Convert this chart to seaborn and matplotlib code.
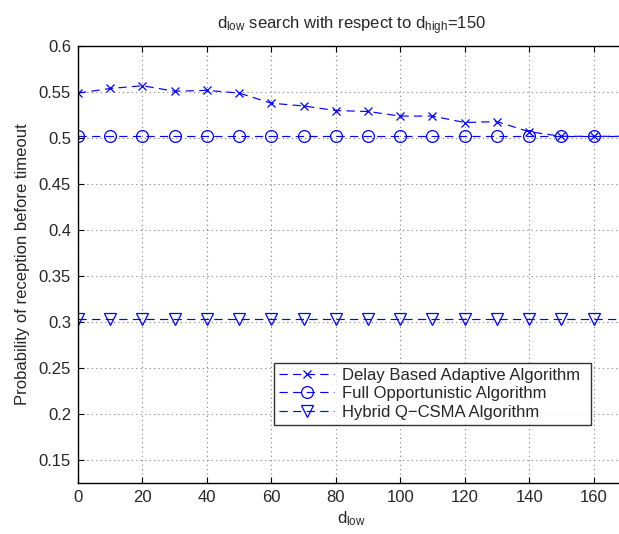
import matplotlib
matplotlib.use("Agg")
import matplotlib.pyplot as plt
import seaborn as sns
import pandas as pd

d_low = [0, 10, 20, 30, 40, 50, 60, 70, 80, 90, 100, 110, 120, 130, 140, 150, 160, 170]
delay_based = [0.549, 0.554, 0.557, 0.551, 0.552, 0.549, 0.538, 0.535, 0.530, 0.529,
               0.524, 0.524, 0.517, 0.518, 0.507, 0.502, 0.502, 0.502]
full_opp = [0.502] * 18
hybrid = [0.303] * 18

series_names = ["Delay Based Adaptive Algorithm", "Full Opportunistic Algorithm",
                "Hybrid Q\u2212CSMA Algorithm"]
series_values = [delay_based, full_opp, hybrid]
markers = ["x", "o", "v"]
msizes = [6, 8.5, 8.5]

sns.set_style("white")
plt.rcParams["font.family"] = ["Liberation Sans", "DejaVu Sans"]
plt.rcParams["mathtext.fontset"] = "custom"
plt.rcParams["mathtext.rm"] = "Liberation Sans"
plt.rcParams["mathtext.it"] = "Liberation Sans"

fig = plt.figure(figsize=(6.19, 5.34), dpi=100)
ax = fig.add_axes([0.126, 0.0955, 0.885, 0.818])

for name, vals, m, ms in zip(series_names, series_values, markers, msizes):
    df = pd.DataFrame({"x": d_low, "y": vals})
    sns.lineplot(data=df, x="x", y="y", ax=ax, color="#0000ff", lw=0.85,
                 marker=m, markersize=ms, markerfacecolor="none",
                 markeredgecolor="#0000ff", markeredgewidth=0.9,
                 label=name)

for line in ax.get_lines():
    line.set_linestyle((0, (7, 4.5)))

ax.set_xlim(0, 170)
ax.set_ylim(0.125, 0.6)
ax.set_xticks(range(0, 161, 20))
ax.set_yticks([0.15, 0.2, 0.25, 0.3, 0.35, 0.4, 0.45, 0.5, 0.55, 0.6])
ax.set_yticklabels(["0.15", "0.2", "0.25", "0.3", "0.35", "0.4", "0.45", "0.5", "0.55", "0.6"])
ax.tick_params(labelsize=12, direction="in", length=4, top=True, right=True,
               bottom=True, left=True, color="black", pad=5)
ax.grid(True, linestyle=(0, (1, 3)), color="#808080", linewidth=0.8)
for s in ax.spines.values():
    s.set_color("black")
    s.set_linewidth(1.0)

ax.set_xlabel(r"$\mathregular{d_{low}}$", fontsize=12, labelpad=3)
ax.set_ylabel("Probability of reception before timeout", fontsize=12, labelpad=6)
ax.set_title(r"$\mathregular{d_{low}}$ search with respect to $\mathregular{d_{high}}$=150",
             fontsize=12, pad=12)

leg = ax.legend(loc="lower left", bbox_to_anchor=(0.358, 0.133, 0.578, 0.167),
                mode="expand", fontsize=12, frameon=True, fancybox=False,
                edgecolor="black", borderaxespad=0, handlelength=3.3,
                handletextpad=0.5, borderpad=0.3, labelspacing=0.22)
leg.get_frame().set_linewidth(1.0)

fig.savefig("out.png", dpi=100)
